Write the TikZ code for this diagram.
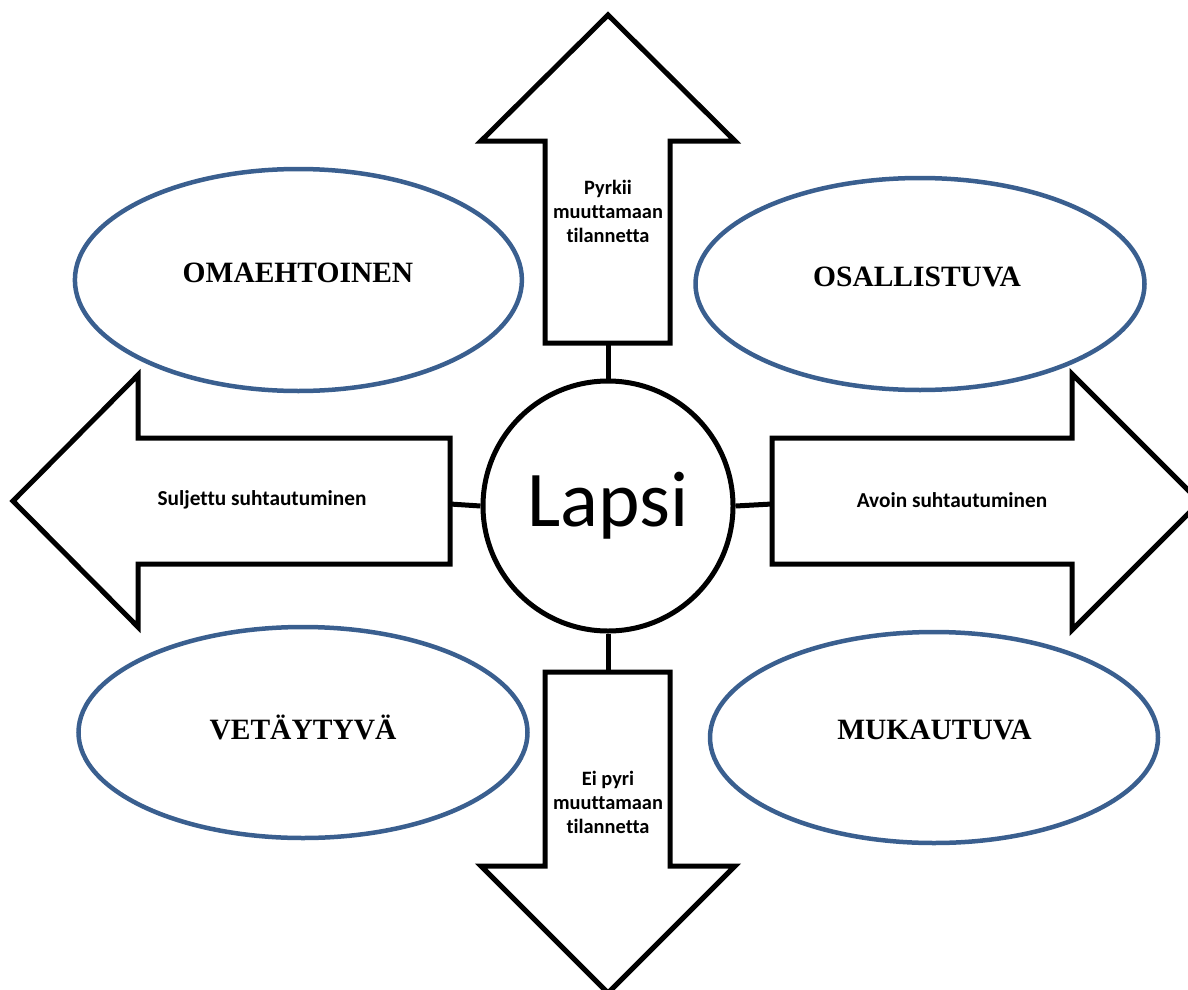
\documentclass[tikz,border=0pt]{standalone}
\usepackage{fontspec}
\setmainfont{Liberation Serif}
\newfontfamily\calibri[Ligatures=NoCommon]{Carlito}
\usetikzlibrary{shapes.geometric}
\definecolor{ovalblue}{HTML}{3A5F8F}
\begin{document}
\begin{tikzpicture}[x=1pt,y=-1pt,
  arrowshape/.style={draw=black,line width=5pt,fill=white,line join=miter},
  link/.style={draw=black,line width=5pt},
  oval/.style={ellipse,draw=ovalblue,line width=4.5pt,fill=white,inner sep=0pt},
  ovaltext/.style={font=\bfseries\fontsize{29.5}{34}\selectfont},
  arrowtext/.style={font=\calibri\bfseries\fontsize{21.3}{24}\selectfont,align=center,inner sep=0pt},
  stacktext/.style={font=\calibri\bfseries\fontsize{20.4}{24}\selectfont,align=center,inner sep=0pt},
  centre/.style={circle,draw=black,line width=5pt,fill=white,minimum size=250pt,inner sep=0pt,
    font=\calibri\fontsize{79}{90}\selectfont}]
\useasboundingbox (0,0) rectangle (1188,990);

% arrows
\draw[arrowshape] (608,15) -- (735,141) -- (670,141) -- (670,343) -- (545,343) -- (545,141) -- (481,141) -- cycle;
\draw[arrowshape] (608,993) -- (735,866) -- (670,866) -- (670,672) -- (545,672) -- (545,866) -- (481,866) -- cycle;
\draw[arrowshape] (13,501) -- (138,375) -- (138,438) -- (450,438) -- (450,564) -- (138,564) -- (138,627) -- cycle;
\draw[arrowshape] (1200,502) -- (1072,374) -- (1072,438) -- (772,438) -- (772,564) -- (1072,564) -- (1072,630) -- cycle;

\coordinate (upbase) at (608,343);
\coordinate (downbase) at (608,672);
\coordinate (leftbase) at (450,504);
\coordinate (rightbase) at (772,504);

% ellipses
\node[oval,minimum width=447pt,minimum height=222pt] (om) at (298.4,280) {};
\node[oval,minimum width=449pt,minimum height=212pt] (os) at (920,284) {};
\node[oval,minimum width=449pt,minimum height=211pt] (ve) at (303,732.5) {};
\node[oval,minimum width=448pt,minimum height=211pt] (mu) at (934,737.5) {};
\node[ovaltext] (omt) at (298,273) {OMAEHTOINEN};
\node[ovaltext] (ost) at (917,277) {OSALLISTUVA};
\node[ovaltext] (vet) at (303,727) {VETÄYTYVÄ};
\node[ovaltext] (mut) at (934.5,730) {MUKAUTUVA};

% centre
\node[centre] (lapsi) at (608,506) {\raisebox{3pt}{Lapsi}};

% connectors
\draw[link] (lapsi.north) -- (upbase);
\draw[link] (lapsi.south) -- (downbase);
\draw[link] (lapsi.west) -- (leftbase);
\draw[link] (lapsi.east) -- (rightbase);

% arrow labels
\node[stacktext] (upt) at (608,211) {Pyrkii\\muuttamaan\\tilannetta};
\node[stacktext] (downt) at (608,802) {Ei pyri\\muuttamaan\\tilannetta};
\node[arrowtext] (leftt) at (262,500) {Suljettu suhtautuminen};
\node[arrowtext] (rightt) at (952,500) {Avoin suhtautuminen};
\end{tikzpicture}
\end{document}
